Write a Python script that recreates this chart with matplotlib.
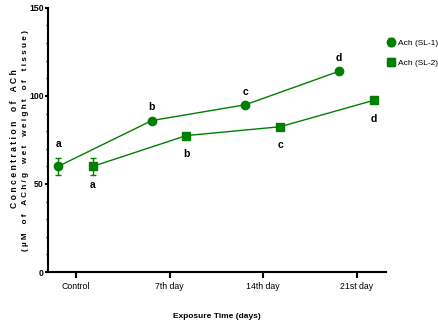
import numpy as np
import matplotlib
matplotlib.use("Agg")
import matplotlib.pyplot as plt
from matplotlib.ticker import MultipleLocator

# =============================================================================
# DATA
# =============================================================================

days = ["Control", "7th day", "14th day", "21st day"]
sl1 = [60, 86, 95, 114]
sl2 = [60, 77.5, 82.5, 97.5]
sl1_err = [5, 0, 0, 0]
sl2_err = [5, 0, 0, 0]
sl1_letters = ["a", "b", "c", "d"]
sl2_letters = ["a", "b", "c", "d"]

green = "#007f00"
plt.rcParams['font.family'] = ['Liberation Sans Narrow', 'Liberation Sans', 'DejaVu Sans']


def Spaced(text):
    # letter-spaced label, like the original
    return " ".join(text).replace("   ", "    ")

# =============================================================================
# PLOT
# =============================================================================

fig = plt.figure(figsize=(4.39, 3.27), dpi=100)
ax = fig.add_axes([0.109, 0.168, 0.770, 0.808])

x = np.arange(len(days))
x1 = x - 0.19
x2 = x + 0.18

ax.errorbar(x1, sl1, yerr=sl1_err, color=green, marker="o", ms=6, lw=1,
            capsize=2.2, elinewidth=1, label="Ach (SL-1)")
ax.errorbar(x2, sl2, yerr=sl2_err, color=green, marker="s", ms=6, lw=1,
            capsize=2.2, elinewidth=1, label="Ach (SL-2)")

for xi, yi, e, t in zip(x1, sl1, sl1_err, sl1_letters):
    ax.annotate(t, (xi, yi + e), xytext=(0, 9.5), textcoords="offset points",
                ha="center", va="center", fontsize=7.5, fontweight="bold")
for xi, yi, t in zip(x2, sl2, sl2_letters):
    ax.annotate(t, (xi, yi), xytext=(0, -13.5), textcoords="offset points",
                ha="center", va="center", fontsize=7.5, fontweight="bold")

ax.set_xlim(-0.30, 3.31)
ax.set_ylim(0, 150)
ax.set_xticks(x)
ax.set_xticklabels(days, fontsize=6.3)
ax.set_yticks([0, 50, 100, 150])
ax.set_yticklabels(["0", "50", "100", "150"], fontsize=6.3, fontweight="bold")
ax.yaxis.set_minor_locator(MultipleLocator(10))
ax.tick_params(axis="x", which="major", direction="out", length=4, width=1.5, pad=3)
ax.tick_params(axis="y", which="major", direction="out", length=2.5, width=1.5, pad=0.5)
ax.tick_params(axis="y", which="minor", direction="out", length=1.8, width=1)

for s in ["top", "right"]:
    ax.spines[s].set_visible(False)
for s in ["left", "bottom"]:
    ax.spines[s].set_linewidth(1.5)

ax.set_xlabel("Exposure Time (days)", fontsize=6, fontweight="bold", labelpad=16)
fig.text(0.034, 0.576, Spaced("Concentration of ACh"), rotation=90,
         ha="center", va="center", fontsize=6.2, fontweight="bold",
         family=["Liberation Sans", "DejaVu Sans"])
fig.text(0.058, 0.570, Spaced("(\u00b5M of ACh/g wet weight of tissue)"), rotation=90,
         ha="center", va="center", fontsize=5.9, fontweight="bold",
         family=["Liberation Sans", "DejaVu Sans"])

leg = ax.legend(loc="upper left", bbox_to_anchor=(0.881, 0.880),
                bbox_transform=fig.transFigure, frameon=False, borderpad=0,
                borderaxespad=0, fontsize=6, handlelength=1.0,
                handletextpad=0.3, labelspacing=1.45)

fig.savefig("out.png", dpi=100)
